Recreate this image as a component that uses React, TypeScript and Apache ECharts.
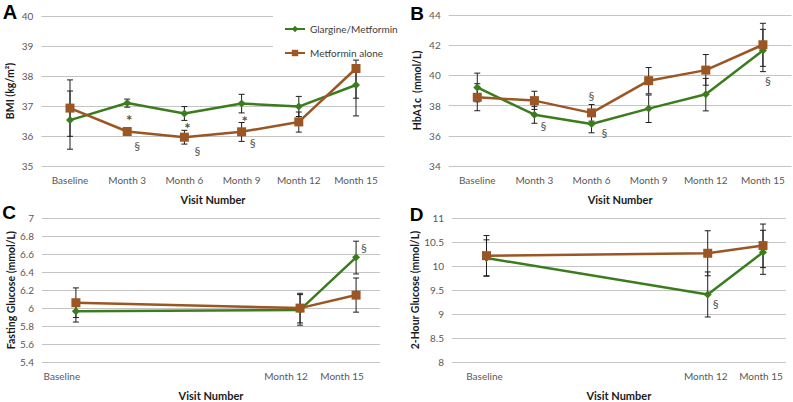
import React, { useEffect, useRef } from "react";
import * as echarts from "echarts";

// ---------- data ----------
const visitCategories = ["Baseline", "Month 3", "Month 6", "Month 9", "Month 12", "Month 15"];

// Panel A – BMI
const bmiGlargine = [36.53, 37.1, 36.75, 37.08, 36.98, 37.7];
const bmiGlargineLow = [35.56, 36.96, 36.52, 36.77, 36.65, 36.67];
const bmiGlargineHigh = [37.5, 37.23, 36.98, 37.39, 37.32, 38.53];
const bmiMetformin = [36.93, 36.15, 35.96, 36.14, 36.47, 38.25];
const bmiMetforminLow = [35.99, 36.08, 35.73, 35.82, 36.13, 37.26];
const bmiMetforminHigh = [37.87, 36.22, 36.19, 36.45, 36.8, 38.3];
const bmiMarks = [
  [1, 36.63, "*", 2],
  [2, 36.37, "*", 3],
  [3, 36.6, "*", 3],
  [1, 35.67, "§", 10],
  [2, 35.53, "§", 13],
  [3, 35.77, "§", 11],
];

// Panel B – HbA1c
const hbaGlargine = [39.2, 37.4, 36.78, 37.8, 38.75, 41.65];
const hbaGlargineLow = [38.25, 36.83, 36.2, 36.88, 37.65, 40.25];
const hbaGlargineHigh = [40.15, 37.95, 37.35, 38.7, 39.8, 43.05];
const hbaMetformin = [38.55, 38.33, 37.52, 39.65, 40.35, 42.03];
const hbaMetforminLow = [37.66, 37.75, 36.97, 38.78, 39.35, 40.6];
const hbaMetforminHigh = [39.45, 38.95, 38.07, 40.52, 41.38, 43.45];
const hbaMarks = [
  [1, 36.65, "§", 9],
  [2, 38.64, "§", 0],
  [2, 36.23, "§", 13],
  [5, 39.63, "§", 5],
];

// Panels C, D – glucose, visits at months 0, 12, 15
const glucoseMonths = [0, 12, 15];
const glucoseLabels = ["Baseline", "Month 12", "Month 15"];

const fastGlargine = [5.965, 5.98, 6.565];
const fastGlargineLow = [5.845, 5.81, 6.38];
const fastGlargineHigh = [6.085, 6.15, 6.745];
const fastMetformin = [6.06, 6.0, 6.145];
const fastMetforminLow = [5.895, 5.835, 5.955];
const fastMetforminHigh = [6.225, 6.165, 6.335];
const fastMarks = [[15, 6.675, "§", 8]];

const twoHGlargine = [10.17, 9.41, 10.29];
const twoHGlargineLow = [9.79, 8.94, 9.83];
const twoHGlargineHigh = [10.55, 9.88, 10.75];
const twoHMetformin = [10.22, 10.27, 10.43];
const twoHMetforminLow = [9.8, 9.8, 9.97];
const twoHMetforminHigh = [10.64, 10.74, 10.88];
const twoHMarks = [[12, 9.23, "§", 8]];

const NAME_G = "Glargine/Metformin";
const NAME_M = "Metformin alone";

// ---------- styles ----------
const GREEN = "#3b7d1e";
const BROWN = "#9b5624";
const GRID_COLOR = "#c4c4c4";
const TICK_COLOR = "#595959";
const FONT = "Lato";

function errorSeries(idx: number, xs: number[], low: number[], high: number[]) {
  return {
    type: "custom",
    xAxisIndex: idx,
    yAxisIndex: idx,
    z: 1,
    silent: true,
    data: xs.map((x, i) => [x, low[i], high[i]]),
    encode: { x: 0, y: [1, 2] },
    renderItem: (params: any, api: any) => {
      const x = api.value(0);
      const p1 = api.coord([x, api.value(1)]);
      const p2 = api.coord([x, api.value(2)]);
      const w = 3;
      const st = { stroke: "#1e1e1e", lineWidth: 1 };
      return {
        type: "group",
        children: [
          { type: "line", shape: { x1: p1[0], y1: p1[1], x2: p2[0], y2: p2[1] }, style: st },
          { type: "line", shape: { x1: p1[0] - w, y1: p1[1], x2: p1[0] + w, y2: p1[1] }, style: st },
          { type: "line", shape: { x1: p2[0] - w, y1: p2[1], x2: p2[0] + w, y2: p2[1] }, style: st },
        ],
      };
    },
  };
}

function lineSeries(idx: number, name: string, xs: number[], ys: number[], green: boolean) {
  return {
    type: "line",
    name,
    xAxisIndex: idx,
    yAxisIndex: idx,
    z: green ? 3 : 4,
    data: xs.map((x, i) => [x, ys[i]]),
    symbol: green ? "diamond" : "rect",
    symbolSize: green ? 8 : 9,
    lineStyle: { color: green ? GREEN : BROWN, width: 2.5 },
    itemStyle: { color: green ? GREEN : BROWN },
  };
}

function markSeries(idx: number, marks: any[]) {
  return {
    type: "scatter",
    xAxisIndex: idx,
    yAxisIndex: idx,
    z: 6,
    silent: true,
    symbolSize: 1,
    itemStyle: { color: "rgba(0,0,0,0)" },
    data: marks.map((m) => {
      const star = m[2] === "*";
      return {
        name: m[2],
        value: [m[0], m[1]],
        label: {
          offset: [m[3], star ? 3 : 0],
          fontSize: star ? 15 : 12,
          fontWeight: star ? "bold" : "normal",
        },
      };
    }),
    label: {
      show: true,
      position: "inside",
      formatter: "{b}",
      color: "#222",
      fontFamily: FONT,
      fontSize: 12,
    },
  };
}

function yAxis(idx: number, name: string, min: number, max: number, interval: number) {
  return {
    gridIndex: idx,
    type: "value",
    min,
    max,
    interval,
    axisLine: { show: false },
    axisTick: { show: false },
    axisLabel: { color: TICK_COLOR, fontSize: 10, fontFamily: FONT, margin: 8 },
    splitLine: { show: true, lineStyle: { color: GRID_COLOR, width: 1 } },
    name,
    nameLocation: "middle",
    nameGap: 26,
    nameTextStyle: { fontFamily: FONT, fontWeight: "bold", fontSize: 10.5, color: "#1a1a1a" },
  };
}

const xName = {
  name: "Visit Number",
  nameLocation: "middle",
  nameGap: 28,
  nameTextStyle: { fontFamily: FONT, fontWeight: "bold", fontSize: 11, color: "#1a1a1a" },
};

function catXAxis(idx: number) {
  return {
    gridIndex: idx,
    type: "category",
    data: visitCategories,
    boundaryGap: true,
    axisLine: { show: false },
    axisTick: { show: false },
    axisLabel: { color: TICK_COLOR, fontSize: 10, fontFamily: FONT, margin: 9, interval: 0 },
    splitLine: { show: false },
    ...xName,
  };
}

function valXAxis(idx: number, min: number, max: number, shift: number) {
  return {
    gridIndex: idx,
    type: "value",
    min,
    max,
    axisLine: { show: false },
    axisTick: { show: false },
    splitLine: { show: false },
    axisLabel: {
      customValues: glucoseMonths,
      formatter: (v: number) => {
        const i = glucoseMonths.indexOf(Math.round(v));
        return i >= 0 ? glucoseLabels[i] : "";
      },
      color: TICK_COLOR,
      fontSize: 10,
      fontFamily: FONT,
      margin: 9,
      padding: [0, shift, 0, 0],
    },
    ...xName,
  };
}

const catIdx = visitCategories.map((_, i) => i);

export default function App() {
  const ref = useRef<HTMLDivElement>(null);
  useEffect(() => {
    document.body.style.margin = "0";
    const chart = echarts.init(ref.current!, undefined, { renderer: "svg" });
    const option: any = {
      animation: false,
      backgroundColor: "#ffffff",
      textStyle: { fontFamily: FONT },
      grid: [
        { left: 41.4, top: 16, width: 343.2, height: 150 },
        { left: 448.7, top: 15, width: 342.8, height: 151 },
        { left: 42, top: 218.3, width: 338, height: 151 },
        { left: 452, top: 218.3, width: 333.7, height: 151 },
      ],
      xAxis: [catXAxis(0), catXAxis(1), valXAxis(2, -1.815, 16.28, 28), valXAxis(3, -1.871, 16.23, 4)],
      yAxis: [
        yAxis(0, "BMI (kg/m²)", 35, 40, 1),
        yAxis(1, "HbA1c  (mmol/L)", 34, 44, 2),
        yAxis(2, "Fasting Glucose (mmol/L)", 5.4, 7, 0.2),
        yAxis(3, "2-Hour Glucose (mmol/L)", 8, 11, 0.5),
      ],
      legend: {
        data: [NAME_G, NAME_M],
        orient: "vertical",
        left: 279,
        top: 19,
        itemWidth: 20,
        itemHeight: 8,
        itemGap: 14,
        z: 10,
        textStyle: { fontFamily: FONT, fontSize: 10, color: "#404040" },
      },
      graphic: [
        { type: "rect", z: 5, shape: { x: 273, y: 0, width: 120, height: 58 }, style: { fill: "#ffffff" } },
        { type: "text", z: 10, style: { text: "A", x: 10, y: 12, align: "center", verticalAlign: "middle", font: "bold 20px 'Liberation Sans'", fill: "#000" } },
        { type: "text", z: 10, style: { text: "B", x: 417, y: 13, align: "center", verticalAlign: "middle", font: "bold 19px 'Liberation Sans'", fill: "#000" } },
        { type: "text", z: 10, style: { text: "C", x: 9, y: 212.5, align: "center", verticalAlign: "middle", font: "bold 19px 'Liberation Sans'", fill: "#000" } },
        { type: "text", z: 10, style: { text: "D", x: 416.5, y: 214, align: "center", verticalAlign: "middle", font: "bold 19px 'Liberation Sans'", fill: "#000" } },
      ],
      series: [
        errorSeries(0, catIdx, bmiGlargineLow, bmiGlargineHigh),
        errorSeries(0, catIdx, bmiMetforminLow, bmiMetforminHigh),
        lineSeries(0, NAME_G, catIdx, bmiGlargine, true),
        lineSeries(0, NAME_M, catIdx, bmiMetformin, false),
        markSeries(0, bmiMarks),

        errorSeries(1, catIdx, hbaGlargineLow, hbaGlargineHigh),
        errorSeries(1, catIdx, hbaMetforminLow, hbaMetforminHigh),
        lineSeries(1, NAME_G, catIdx, hbaGlargine, true),
        lineSeries(1, NAME_M, catIdx, hbaMetformin, false),
        markSeries(1, hbaMarks),

        errorSeries(2, glucoseMonths, fastGlargineLow, fastGlargineHigh),
        errorSeries(2, glucoseMonths, fastMetforminLow, fastMetforminHigh),
        lineSeries(2, NAME_G, glucoseMonths, fastGlargine, true),
        lineSeries(2, NAME_M, glucoseMonths, fastMetformin, false),
        markSeries(2, fastMarks),

        errorSeries(3, glucoseMonths, twoHGlargineLow, twoHGlargineHigh),
        errorSeries(3, glucoseMonths, twoHMetforminLow, twoHMetforminHigh),
        lineSeries(3, NAME_G, glucoseMonths, twoHGlargine, true),
        lineSeries(3, NAME_M, glucoseMonths, twoHMetformin, false),
        markSeries(3, twoHMarks),
      ],
    };
    chart.setOption(option);
    return () => chart.dispose();
  }, []);
  return <div ref={ref} style={{ position: "absolute", left: 0, top: 0, width: 793, height: 402 }} />;
}
